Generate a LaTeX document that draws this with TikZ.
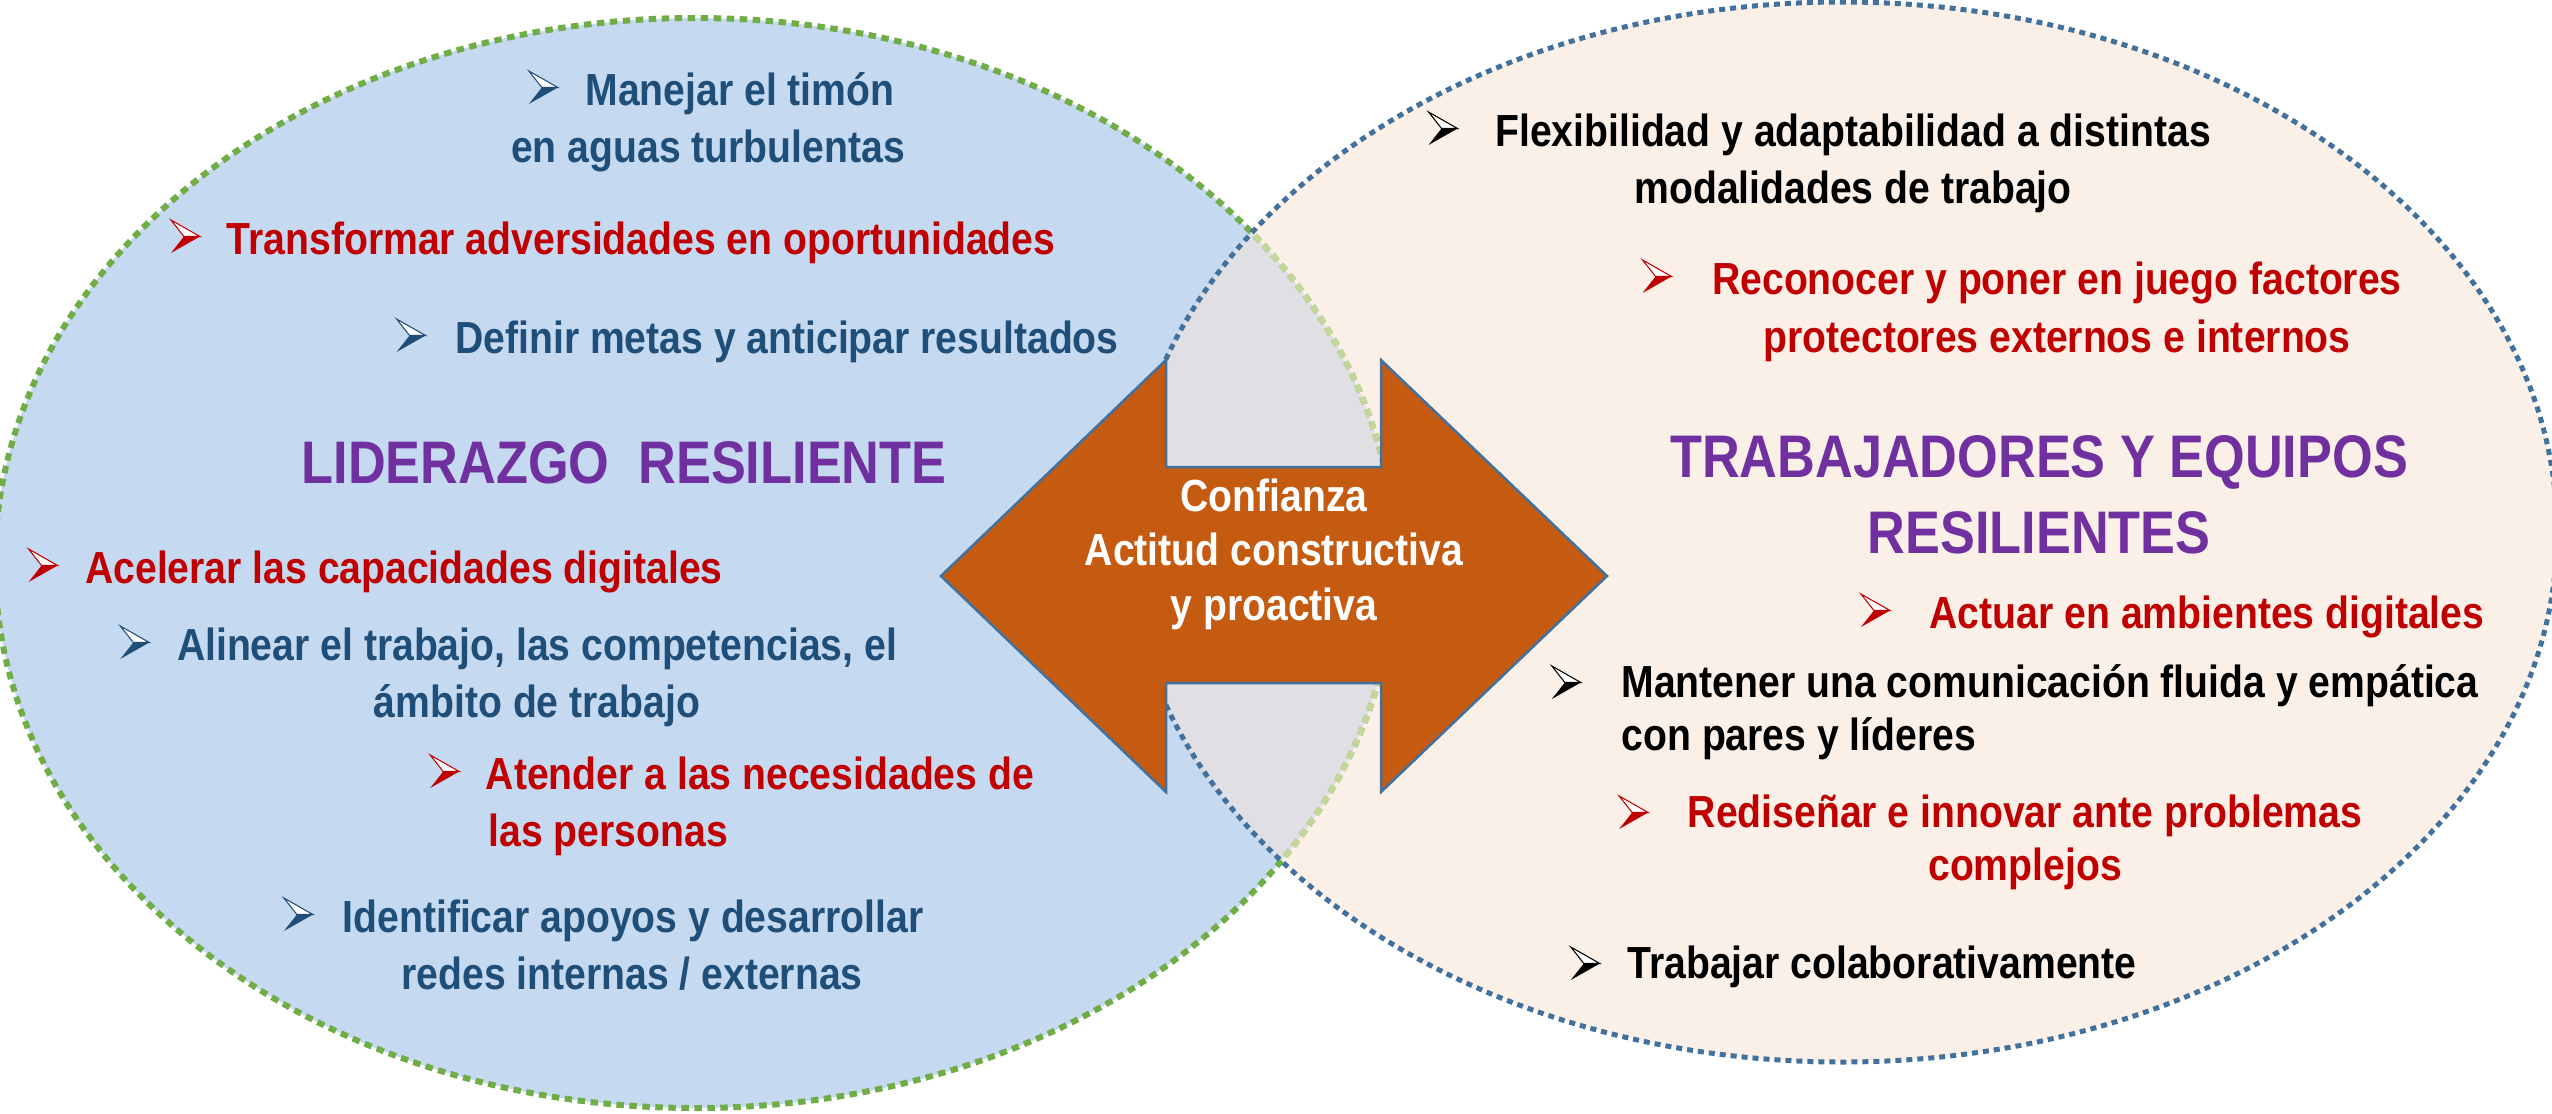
\documentclass[tikz,border=0pt]{standalone}
\usepackage{fontspec}
\newfontfamily\diagfont{Liberation Sans}[FakeStretch=0.87]
\usetikzlibrary{calc}

\definecolor{leftfill}{HTML}{C5D9F1}
\definecolor{rightfill}{HTML}{FBF0E8}
\definecolor{overlapfill}{HTML}{E0DFE4}
\definecolor{greenline}{HTML}{70AD47}
\definecolor{palegreen}{HTML}{C4D79B}
\definecolor{blueline}{HTML}{41719C}
\definecolor{arroworange}{HTML}{C55A11}
\definecolor{navy}{HTML}{1F4E79}
\definecolor{darkred}{HTML}{C00000}
\definecolor{purple}{HTML}{7030A0}

\tikzset{
  pics/bul/.style={code={
    \fill[#1] (13,16.5) -- (29,16.5) -- (0,33) -- cycle;
    \filldraw[draw=#1, fill=white, line width=0.3pt] (0,0) -- (29,16.5) -- (13,16.5) -- cycle;
  }}
}

\begin{document}
\begin{tikzpicture}[x=0.1mm, y=-0.1mm,
  txt/.style={inner sep=0pt, anchor=base, font=\diagfont\bfseries\fontsize{12.8}{15}\selectfont},
  ttl/.style={inner sep=0pt, anchor=base, text=purple, font=\diagfont\bfseries\fontsize{17.1}{20}\selectfont},
  ringleft/.style={line width=0.6mm, dash pattern=on 0.75mm off 0.55mm},
  ringright/.style={draw=blueline, line width=0.5mm, dash pattern=on 0.6mm off 0.5mm},
  arrowbox/.style={fill=arroworange, draw=blueline, line width=0.25mm, line join=miter}]
  \useasboundingbox (0,0) rectangle (2552,1113);

  % the two ellipses and their overlap
  \fill[leftfill] (695,563) ellipse [x radius=700, y radius=545];
  \fill[rightfill] (1842,532) ellipse [x radius=715, y radius=530];
  \begin{scope}
    \clip (695,563) ellipse [x radius=700, y radius=545];
    \fill[overlapfill] (1842,532) ellipse [x radius=715, y radius=530];
  \end{scope}
  \draw[ringleft, draw=greenline] (695,563) ellipse [x radius=700, y radius=545];
  \begin{scope}
    \clip (1842,532) ellipse [x radius=715, y radius=530];
    \draw[ringleft, draw=palegreen] (695,563) ellipse [x radius=700, y radius=545];
  \end{scope}
  \draw[ringright] (1842,532) ellipse [x radius=715, y radius=530];

  % double arrow in the middle
  \draw[arrowbox] (941,576) -- (1166,360) -- (1166,467) -- (1381,467) -- (1381,360)
    -- (1607,576) -- (1381,792) -- (1381,683) -- (1166,683) -- (1166,792) -- cycle;
  \node[txt, text=white] (conf) at (1274,511) {Confianza};
  \node[txt, text=white] (acti) at (1274,565) {Actitud constructiva};
  \node[txt, text=white] (proa) at (1274,620) {y proactiva};

  % left: liderazgo
  \node[txt, text=navy] (timon) at (740,105) {Manejar el timón};
  \node[txt, text=navy] (timonb) at (708,162) {en aguas turbulentas};
  \node[txt, text=darkred] (transf) at (641,254) {Transformar adversidades en oportunidades};
  \node[txt, text=navy] (metas) at (787,353) {Definir metas y anticipar resultados};
  \node[ttl] (lider) at (624,483) {LIDERAZGO\ \ RESILIENTE};
  \node[txt, text=darkred] (acel) at (404,583) {Acelerar las capacidades digitales};
  \node[txt, text=navy] (alin) at (537,660) {Alinear el trabajo, las competencias, el};
  \node[txt, text=navy] (alinb) at (537,717) {ámbito de trabajo};
  \node[txt, text=darkred] (atend) at (760,789) {Atender a las necesidades de};
  \node[txt, text=darkred, anchor=base west] (atendb) at (488,846) {las personas};
  \node[txt, text=navy] (ident) at (633,932) {Identificar apoyos y desarrollar};
  \node[txt, text=navy] (identb) at (632,989) {redes internas / externas};

  \pic at ($(timon.base west)+(-56,-34)$) {bul=navy};
  \pic at ($(transf.base west)+(-55,-34)$) {bul=darkred};
  \pic at ($(metas.base west)+(-58,-34)$) {bul=navy};
  \pic at ($(acel.base west)+(-56,-34)$) {bul=darkred};
  \pic at ($(alin.base west)+(-56,-34)$) {bul=navy};
  \pic at ($(atend.base west)+(-55,-34)$) {bul=darkred};
  \pic at ($(ident.base west)+(-58,-34)$) {bul=navy};

  % right: trabajadores y equipos
  \node[txt] (flex) at (1853,146) {Flexibilidad y adaptabilidad a distintas};
  \node[txt] (flexb) at (1853,203) {modalidades de trabajo};
  \node[txt, text=darkred] (recon) at (2057,294) {Reconocer y poner en juego factores};
  \node[txt, text=darkred] (reconb) at (2057,352) {protectores externos e internos};
  \node[ttl] (trab) at (2039,477) {TRABAJADORES Y EQUIPOS};
  \node[ttl] (trabb) at (2039,553) {RESILIENTES};
  \node[txt, text=darkred] (actuar) at (2207,628) {Actuar en ambientes digitales};
  \node[txt] (mant) at (2050,697) {Mantener una comunicación fluida y empática};
  \node[txt, anchor=base west] (mantb) at (mant.base west |- 0,750) {con pares y líderes};
  \node[txt, text=darkred] (redis) at (2025,827) {Rediseñar e innovar ante problemas};
  \node[txt, text=darkred] (redisb) at (2025,880) {complejos};
  \node[txt] (colab) at (1882,978) {Trabajar colaborativamente};

  \pic at ($(flex.base west)+(-66,-34)$) {bul=black};
  \pic at ($(recon.base west)+(-69,-34)$) {bul=darkred};
  \pic at ($(actuar.base west)+(-68,-34)$) {bul=darkred};
  \pic at ($(mant.base west)+(-69,-31)$) {bul=black};
  \pic at ($(redis.base west)+(-68,-31)$) {bul=darkred};
  \pic at ($(colab.base west)+(-56,-31)$) {bul=black};
\end{tikzpicture}
\end{document}
